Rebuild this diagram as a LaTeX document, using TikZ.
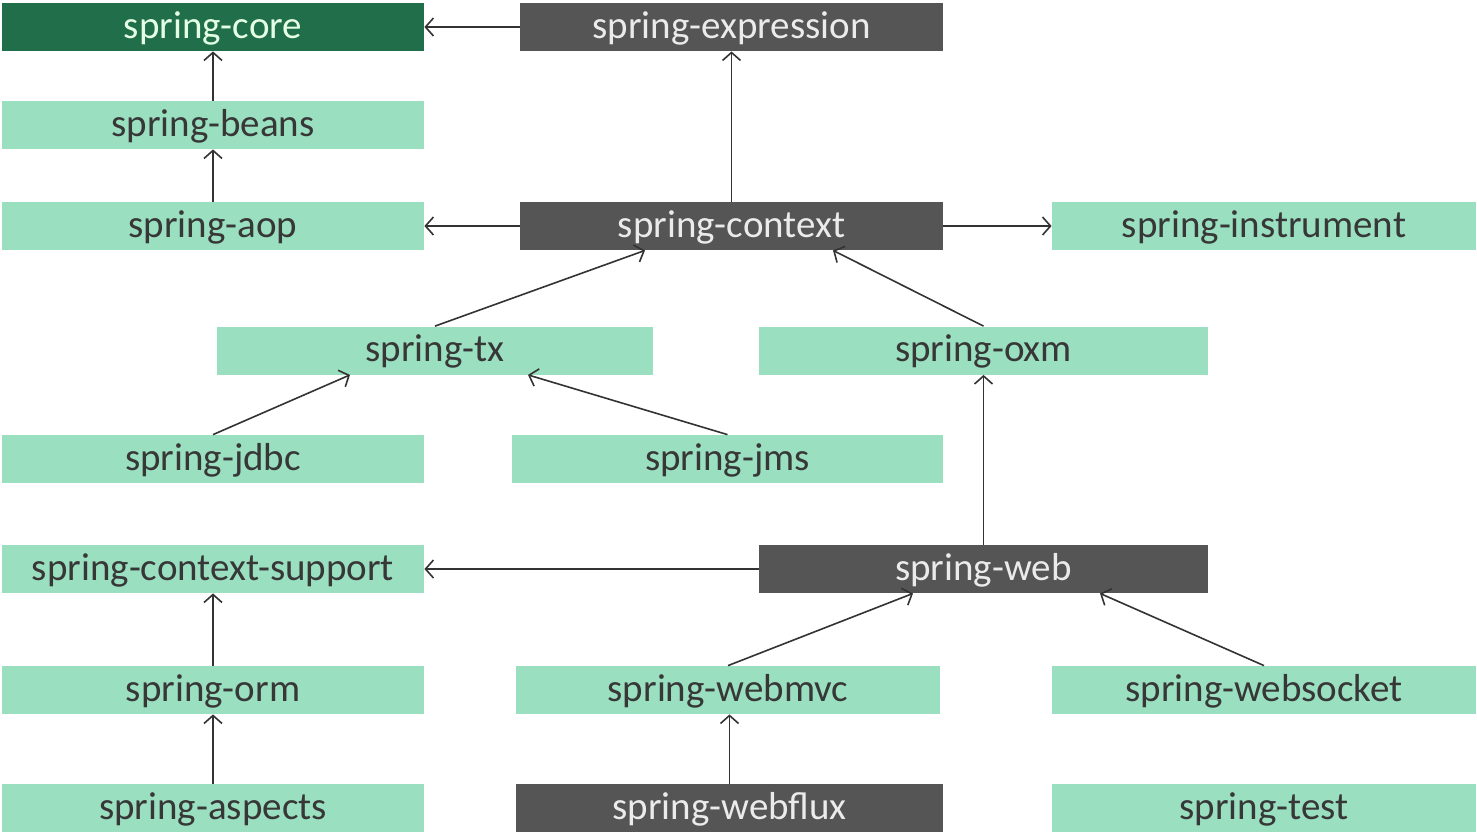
\documentclass[tikz,border=0pt]{standalone}
\usepackage{fontspec}
\setmainfont{Carlito}
\usepackage{tikz}
\usetikzlibrary{arrows.meta,positioning,calc}
\definecolor{coregreen}{RGB}{33,110,75}
\definecolor{modgreen}{RGB}{153,223,192}
\definecolor{modgray}{RGB}{85,85,85}
\definecolor{textgray}{RGB}{55,55,55}

\begin{document}
\begin{tikzpicture}[
    x=0.5pt, y=-0.5pt,
    module/.style={rectangle, fill=modgreen, text=textgray, inner sep=0pt,
                   minimum width=211pt, minimum height=24pt,
                   text height=14.5pt, text depth=3.5pt,
                   font=\fontsize{19.5}{22}\selectfont},
    darkmodule/.style={module, fill=modgray, text=white!92!black},
    dep/.style={-{Straight Barb[length=4pt,width=9pt]}, line width=0.8pt, draw=black!80}
]
\useasboundingbox (0,0) rectangle (1477,832);

% Core layer
\node[module, fill=coregreen, text=white!90!green] (core) at (213,27) {spring-core};
\node[darkmodule, minimum width=211.5pt] (expression) at (731.5,27) {spring-expression};
\node[module] (beans) at (213,125) {spring-beans};

% Context layer
\node[module] (aop) at (213,226) {spring-aop};
\node[darkmodule, minimum width=211.5pt] (context) at (731.5,226) {spring-context};
\node[module, minimum width=212pt] (instrument) at (1264,226) {spring-instrument};

% Data access
\node[module, minimum width=218pt] (tx) at (435,350.5) {spring-tx};
\node[module, minimum width=224.5pt] (oxm) at (983.5,350.5) {spring-oxm};
\node[module] (jdbc) at (213,459) {spring-jdbc};
\node[module, minimum width=215.5pt] (jms) at (727.5,459) {spring-jms};

% Web layer
\node[module] (support) at (213,569) {spring-context-support};
\node[darkmodule, minimum width=224.5pt] (web) at (983.5,569) {spring-web};
\node[module] (orm) at (213,690) {spring-orm};
\node[module, minimum width=212pt] (webmvc) at (728,690) {spring-webmvc};
\node[module, minimum width=212pt] (websocket) at (1264,690) {spring-websocket};

% Bottom row
\node[module] (aspects) at (213,808) {spring-aspects};
\node[darkmodule, minimum width=213.5pt] (webflux) at (729.5,808) {spring-webflux};
\node[module, minimum width=212pt] (test) at (1264,808) {spring-test};

% Dependencies
\draw[dep] (expression) -- (core);
\draw[dep] (beans) -- (core);
\draw[dep] (aop) -- (beans);
\draw[dep] (context) -- (expression);
\draw[dep] (context) -- (aop);
\draw[dep] (context) -- (instrument);
\draw[dep] (tx.north) -- ($(context.south)+(-86.5,0)$);
\draw[dep] (oxm.north) -- ($(context.south)+(101.5,0)$);
\draw[dep] (jdbc.north) -- ($(tx.south)+(-85,0)$);
\draw[dep] (jms.north) -- ($(tx.south)+(93,0)$);
\draw[dep] (web) -- (oxm);
\draw[dep] (web) -- (support);
\draw[dep] (orm) -- (support);
\draw[dep] (aspects) -- (orm);
\draw[dep] (webmvc.north) -- ($(web.south)+(-70.5,0)$);
\draw[dep] (websocket.north) -- ($(web.south)+(116.5,0)$);
\draw[dep] (webflux.north) -- (webflux.north |- webmvc.south);

\end{tikzpicture}
\end{document}
